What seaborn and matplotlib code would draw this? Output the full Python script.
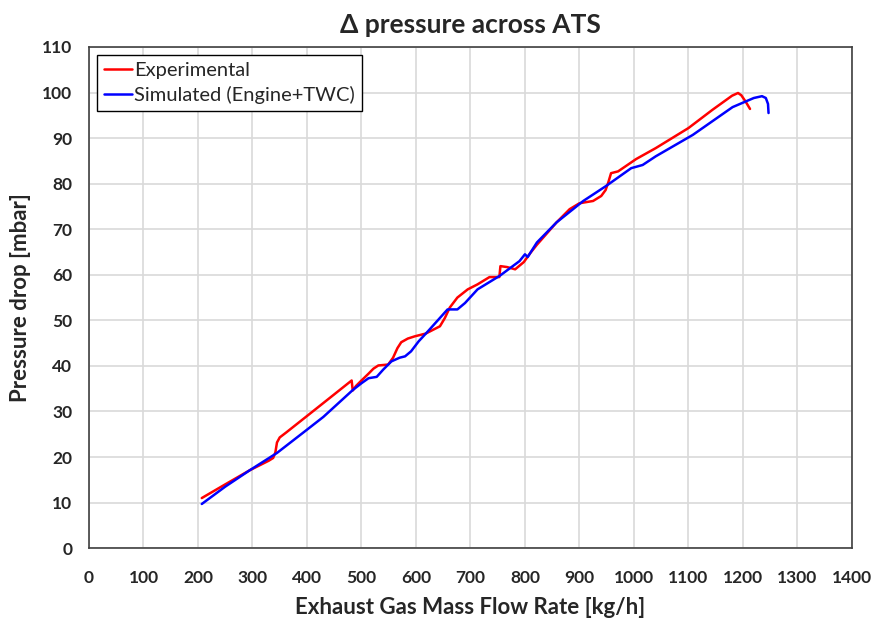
import pandas as pd
import matplotlib.pyplot as plt
import seaborn as sns

# values
exp_flow = [207, 250, 295, 330, 338, 342, 345, 350, 362, 400, 440, 482, 484, 490, 500,
            513, 522, 531, 549, 558, 566, 573, 585, 598, 618, 644, 653, 662, 676, 695,
            713, 735, 753, 755, 767, 782, 798, 810, 822, 858, 882, 900, 925, 940, 948,
            953, 958, 971, 1004, 1040, 1100, 1144, 1180, 1191, 1197, 1205, 1213]
exp_dp = [11.0, 14.0, 17.1, 19.2, 19.8, 21.0, 23.2, 24.3, 25.4, 29.0, 32.8, 36.8, 34.6,
          35.6, 36.8, 38.3, 39.4, 40.1, 40.3, 41.8, 43.9, 45.2, 46.0, 46.5, 47.1, 48.7,
          50.5, 52.8, 55.0, 56.8, 57.9, 59.5, 59.5, 61.9, 61.7, 61.2, 62.8, 64.8, 66.6,
          71.5, 74.4, 75.7, 76.2, 77.3, 78.6, 80.3, 82.3, 82.7, 85.4, 87.8, 92.2, 96.2,
          99.3, 99.9, 99.4, 98.0, 96.4]

sim_flow = [207, 250, 295, 345, 400, 430, 484, 500, 513, 528, 540, 555, 570, 580, 591,
            605, 622, 640, 658, 676, 690, 713, 754, 790, 800, 805, 822, 858, 907, 949,
            995, 1016, 1040, 1108, 1181, 1220, 1235, 1242, 1246, 1247]
sim_dp = [9.7, 13.5, 17.1, 20.9, 26.0, 28.8, 34.7, 36.2, 37.3, 37.6, 39.2, 41.0, 41.8,
          42.1, 43.2, 45.4, 47.6, 50.0, 52.4, 52.4, 53.8, 56.8, 59.8, 63.0, 64.5, 63.9,
          67.1, 71.5, 76.2, 79.5, 83.4, 84.1, 86.0, 90.7, 96.8, 98.8, 99.2, 98.8, 97.5, 95.5]

series_names = ['Experimental', 'Simulated (Engine+TWC)']

df = pd.concat([
    pd.DataFrame({'flow': exp_flow, 'dp': exp_dp, 'series': series_names[0]}),
    pd.DataFrame({'flow': sim_flow, 'dp': sim_dp, 'series': series_names[1]}),
], ignore_index=True)

sns.set_style('white')
plt.rcParams['font.family'] = ['Lato', 'DejaVu Sans']

fig = plt.figure(figsize=(8.81, 6.18), dpi=100)
ax = fig.add_axes([0.101, 0.113, 0.866, 0.811])

sns.lineplot(data=df, x='flow', y='dp', hue='series', sort=False, estimator=None,
             palette={series_names[0]: '#ff0000', series_names[1]: '#0000ff'},
             linewidth=1.8, ax=ax)

ax.set_xlim(0, 1400)
ax.set_ylim(0, 110)
ax.set_xticks(range(0, 1401, 100))
ax.set_yticks(range(0, 111, 10))
ax.grid(True, color='#d9d9d9', linewidth=1.2)
ax.set_axisbelow(True)
for s in ax.spines.values():
    s.set_color('#404040')
    s.set_linewidth(1.2)

ax.tick_params(axis='both', length=0, labelsize=12.5)
ax.tick_params(axis='x', pad=16)
ax.tick_params(axis='y', pad=12)
for lbl in ax.get_xticklabels() + ax.get_yticklabels():
    lbl.set_fontweight('bold')

ax.set_xlabel('Exhaust Gas Mass Flow Rate [kg/h]', fontsize=16, fontweight='bold', labelpad=8)
ax.set_ylabel('Pressure drop [mbar]', fontsize=16, fontweight='bold', labelpad=8)
ax.set_title('Δ pressure across ATS', fontsize=19, fontweight='bold', pad=10)

leg = ax.legend(loc='upper left', fontsize=14.5, frameon=True, fancybox=False,
                handlelength=1.4, handletextpad=0.1, borderpad=0.35,
                labelspacing=0.35, borderaxespad=0, bbox_to_anchor=(0.0105, 0.984))
leg.get_frame().set_edgecolor('black')
leg.get_frame().set_linewidth(1.0)
leg.get_frame().set_alpha(1)

fig.savefig('out.png', dpi=100)
